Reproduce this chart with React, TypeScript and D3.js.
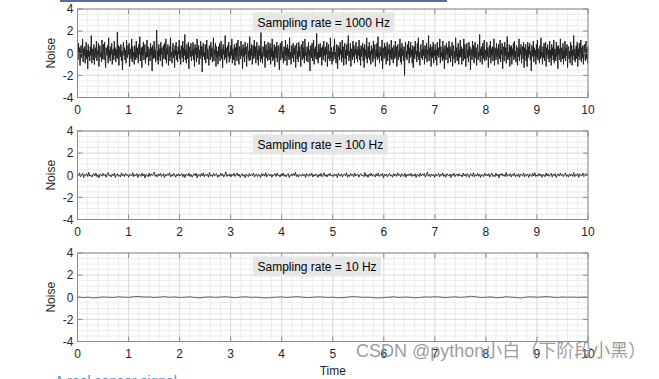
import React from "react";
import * as d3 from "d3";

// ---- data ----
const noise1000Hz: number[] = [
0.3,-0.6,0.9,-0.1,0.5,-1.1,0.2,0.7,-0.4,0.0,1.3,-0.8,0.4,-0.2,0.6,-0.9,0.1,1.0,-0.5,0.3,-1.4,0.8,-0.3,0.2,-0.7,
0.6,-0.2,1.6,-0.9,0.4,0.1,-0.6,0.8,-1.0,0.3,0.5,-0.4,1.1,-0.7,0.2,-0.1,0.9,-1.2,0.4,0.7,-0.3,0.0,-0.8,1.2,-0.5,
0.2,0.8,-0.6,1.0,-0.3,-1.3,0.5,0.1,-0.2,0.7,-0.9,1.4,-0.4,0.3,-0.7,0.6,-0.1,0.9,-1.0,0.2,0.4,-0.6,1.1,-0.2,0.5,
-0.8,0.3,-0.4,1.9,-0.5,0.7,-1.1,0.1,0.6,-0.3,0.8,-0.7,0.2,-1.5,0.4,1.0,-0.2,0.5,-0.6,0.3,-0.9,1.2,0.0,-0.4,0.7,
-0.1,0.9,-1.2,0.4,0.2,-0.5,1.3,-0.8,0.6,-0.3,0.1,-1.0,0.7,0.3,-0.6,1.1,-0.4,0.5,-0.2,-0.9,0.8,-0.1,1.5,-0.7,0.2,
0.5,-1.3,0.6,-0.2,1.0,-0.6,0.3,0.8,-0.9,0.1,-0.4,1.2,-0.3,0.6,-1.1,0.4,0.0,-0.7,0.9,-0.2,0.5,-1.6,0.7,0.2,-0.5,
1.1,-0.4,0.3,-0.8,0.6,2.1,-0.6,0.2,-1.0,0.8,-0.3,0.4,-0.7,1.0,-0.1,0.5,-1.2,0.3,0.7,-0.5,0.9,-0.2,-0.6,1.3,-0.9,
0.4,-0.1,0.8,-1.1,0.2,0.6,-0.7,1.4,-0.3,0.1,-0.9,0.5,0.9,-0.4,0.3,-1.3,0.7,-0.2,1.0,-0.6,0.2,-0.8,0.6,-0.1,1.2,
-0.5,0.3,-1.0,0.7,0.1,-0.4,1.1,-0.8,0.5,-0.2,1.7,-0.6,0.3,-0.9,0.8,0.0,-0.5,1.0,-1.4,0.4,0.6,-0.3,0.9,-0.7,0.2,
-0.2,1.0,-0.6,0.4,-1.2,0.8,-0.1,0.5,-0.8,1.3,-0.4,0.2,0.7,-1.0,0.3,-0.5,1.1,-0.2,0.6,-1.7,0.4,0.9,-0.3,0.1,-0.6,
0.8,-0.9,0.2,1.2,-0.5,0.4,-0.2,-1.1,0.7,0.3,-0.6,1.0,-0.3,0.5,-0.8,0.1,1.4,-0.7,0.3,-0.1,0.9,-1.2,0.6,-0.4,0.2,
-1.0,0.6,-0.3,0.9,-0.7,0.2,1.1,-0.5,0.4,-1.3,0.8,-0.1,0.3,-0.6,1.6,-0.4,0.5,-0.9,0.2,0.7,-0.3,1.0,-0.8,0.1,-0.5,
0.7,-0.2,1.3,-0.9,0.4,-0.6,0.1,0.8,-1.1,0.5,-0.3,0.9,-0.7,0.2,1.2,-0.4,-1.0,0.6,0.3,-0.5,1.1,-0.2,0.4,-1.4,0.8,
-0.3,0.5,-0.8,1.0,-0.1,0.6,-1.2,0.3,0.9,-0.4,0.2,-0.7,1.5,-0.6,0.4,-0.2,0.8,-1.0,0.1,0.7,-0.5,1.2,-0.3,0.6,-0.9,
0.2,1.0,-0.6,0.3,-1.1,0.7,-0.2,0.5,-0.8,2.0,-0.5,0.1,-0.9,0.6,0.4,-0.3,1.1,-1.3,0.2,0.8,-0.4,0.3,-0.7,1.0,-0.1,
-0.6,0.4,0.9,-1.0,0.5,-0.3,1.3,-0.7,0.2,-0.5,0.8,-1.2,0.6,0.0,-0.4,1.0,-0.8,0.3,0.7,-0.2,-1.5,0.5,0.9,-0.6,0.3,
1.1,-0.4,0.2,-0.9,0.6,0.3,-0.7,1.2,-0.2,0.5,-1.1,0.8,-0.3,0.4,-0.6,1.4,-0.5,0.1,-1.0,0.7,0.2,-0.4,0.9,-0.8,0.5,
-0.1,0.7,-1.3,0.4,0.9,-0.5,0.2,-0.8,1.0,-0.3,0.6,-0.1,-1.2,0.8,0.3,-0.6,1.1,-0.4,0.5,-0.9,1.3,-0.2,0.1,-0.7,0.6,
0.4,-0.8,1.0,-0.2,0.3,-1.6,0.7,0.5,-0.4,0.9,-0.7,0.2,1.2,-1.0,0.4,-0.3,0.6,-0.5,1.8,-0.6,0.1,-0.9,0.8,0.3,-0.4,
0.9,-0.3,0.5,-1.1,0.2,0.7,-0.6,1.1,-0.2,0.4,-0.8,0.6,-0.1,1.0,-1.2,0.3,0.8,-0.5,0.2,-0.7,1.4,-0.4,0.5,-1.0,0.1,
-0.7,0.6,-0.2,1.3,-0.5,0.1,-0.9,0.8,0.4,-1.4,0.7,-0.3,0.5,-0.6,1.0,-0.1,0.3,-0.8,1.2,-0.4,0.6,-1.1,0.2,0.9,-0.5,
0.3,-1.0,0.8,-0.2,0.5,1.6,-0.7,0.2,-0.4,0.9,-1.2,0.4,0.1,-0.6,1.1,-0.3,0.7,-0.9,0.4,-0.1,1.0,-0.5,0.3,-0.8,0.6,
-0.2,1.2,-0.6,0.4,-1.1,0.7,-0.3,0.2,0.9,-0.7,0.5,-1.3,0.8,-0.2,0.3,-0.5,1.4,-0.9,0.1,0.6,-0.4,1.0,-0.6,0.2,-1.0,
0.7,-0.1,0.4,-0.8,1.1,-0.5,0.2,0.8,-1.2,0.3,-0.3,0.9,-0.6,1.5,-0.4,0.1,-0.9,0.6,-0.2,0.4,-0.7,1.2,-1.4,0.5,0.2,
-0.5,0.9,-0.3,0.6,-1.0,0.2,1.0,-0.7,0.4,-0.1,0.8,-1.1,0.3,-0.4,1.2,-0.6,0.5,-0.2,-0.9,0.7,0.1,-0.5,1.1,-0.3,0.6,
-1.2,0.4,0.8,-0.6,0.2,-0.3,1.3,-0.8,0.5,-1.0,0.9,-0.2,0.3,-0.7,0.6,-2.0,0.4,1.0,-0.4,0.2,-0.6,0.8,-0.1,1.1,-0.9,
0.5,-0.4,1.0,-0.2,0.3,-0.9,0.7,-1.3,0.4,0.6,-0.5,1.1,-0.1,0.2,-0.8,0.9,-0.3,1.4,-0.6,0.1,-1.1,0.5,0.8,-0.4,0.3,
-0.6,1.2,-0.2,0.4,-1.0,0.7,0.1,-0.5,0.9,-0.8,0.3,-0.1,1.6,-0.7,0.5,-0.3,0.8,-1.2,0.2,0.6,-0.4,1.0,-0.9,0.3,-0.2,
0.8,-0.6,0.3,-1.1,1.0,-0.2,0.5,-0.4,0.2,1.3,-0.9,0.6,-0.3,0.1,-0.7,1.1,-0.5,0.4,-1.4,0.7,0.2,-0.6,0.9,-0.1,0.5,
-0.9,0.2,1.1,-0.4,0.6,-0.8,0.3,-0.2,1.0,-1.2,0.4,0.7,-0.5,0.2,-0.9,1.4,-0.3,0.5,-0.7,0.1,0.9,-1.0,0.3,-0.4,1.2,
-0.3,0.6,-1.0,0.4,0.2,-0.7,1.3,-0.5,0.8,-0.1,-1.2,0.5,0.9,-0.4,0.3,-0.8,1.0,-0.2,0.6,-1.5,0.4,0.1,-0.6,1.1,-0.3,
0.7,-0.9,0.2,1.0,-0.4,0.5,-1.1,0.3,0.8,-0.6,0.1,-0.3,1.7,-0.8,0.4,-0.2,0.6,-1.0,0.9,-0.5,0.2,1.2,-0.7,0.3,-0.1,
-0.6,1.0,-0.3,0.5,-1.3,0.2,0.7,-0.4,1.1,-0.9,0.4,-0.2,0.6,-0.7,0.0,1.3,-1.1,0.5,0.2,-0.6,0.9,-0.3,0.4,-1.0,0.8,
0.2,-0.5,1.2,-0.8,0.3,-0.1,0.9,-1.4,0.6,0.4,-0.7,1.0,-0.2,0.5,-0.9,0.3,1.5,-0.6,0.1,-0.4,0.8,-1.2,0.6,-0.3,0.7,
-1.0,0.4,-0.2,0.9,-0.6,1.1,-0.4,0.2,-0.8,0.7,0.3,-1.1,0.5,-0.3,1.3,-0.7,0.4,-0.1,0.8,-0.9,0.2,0.6,-0.5,1.0,-1.3,
0.5,-0.2,0.8,-0.7,0.3,-1.2,1.0,-0.4,0.6,-0.1,0.9,-0.6,0.2,-1.6,0.7,0.4,-0.3,1.1,-0.8,0.5,-0.2,0.3,-1.0,0.8,-0.4,
1.2,-0.6,0.4,-0.2,-0.9,0.7,-0.5,1.4,-0.3,0.1,-1.0,0.6,-0.4,0.9,-0.7,0.2,1.0,-1.2,0.5,-0.1,0.8,-0.5,0.3,-0.8,1.1,
-0.4,0.3,-1.1,0.8,-0.2,0.5,-0.6,1.2,-0.9,0.4,0.2,-0.7,1.0,-0.3,0.6,-1.4,0.7,-0.1,0.4,-0.6,1.3,-0.8,0.2,0.5,-0.5,
0.9,-1.0,0.3,-0.4,1.1,-0.7,0.5,-0.2,0.8,-1.3,0.4,0.6,-0.5,0.2,-0.9,1.0,-0.3,0.7,-1.1,0.3,-0.2,1.6,-0.6,0.4,-0.8,
0.1,0.7,-0.5,1.0,-1.2,0.4,-0.3,0.9,-0.6,0.2,1.2,-0.8,0.5,-0.4,0.7,-1.0,0.3,0.8,-0.2,-0.7,1.1,-0.5,0.4,-0.9,0.6,
];

const noise100Hz: number[] = [
0.12,-0.05,0.21,-0.14,0.03,0.18,-0.22,0.07,-0.01,0.15,-0.11,0.26,-0.08,0.02,-0.17,0.09,0.14,-0.06,0.20,-0.13,0.04,-0.24,0.11,0.06,-0.09,
0.17,-0.02,0.08,-0.19,0.13,0.25,-0.07,0.01,-0.15,0.10,-0.04,0.19,-0.21,0.06,0.14,-0.10,0.03,-0.16,0.22,-0.05,0.09,-0.12,0.16,-0.01,0.05,
-0.18,0.11,0.02,-0.08,0.24,-0.13,0.07,-0.03,0.15,-0.20,0.09,0.04,-0.11,0.18,-0.06,0.12,-0.25,0.08,0.01,-0.14,0.20,-0.09,0.13,-0.02,0.06,
0.28,-0.10,0.05,-0.16,0.11,-0.04,0.19,-0.12,0.02,0.15,-0.22,0.08,-0.07,0.13,-0.01,0.23,-0.15,0.06,-0.09,0.17,0.03,-0.19,0.10,-0.05,0.14,
-0.08,0.02,0.16,-0.13,0.09,-0.21,0.12,0.04,-0.06,0.20,-0.11,0.07,-0.17,0.01,0.13,-0.03,0.18,-0.24,0.10,0.05,-0.12,0.15,-0.07,0.22,-0.14,
0.06,-0.01,0.11,-0.18,0.24,-0.09,0.03,-0.13,0.17,-0.05,0.08,0.14,-0.20,0.02,-0.10,0.19,-0.04,0.12,-0.16,0.07,0.31,-0.11,0.05,-0.08,0.13,
-0.15,0.09,-0.03,0.18,-0.12,0.04,0.21,-0.07,0.10,-0.19,0.01,0.15,-0.09,0.06,-0.23,0.12,0.03,-0.14,0.17,-0.06,0.08,-0.02,0.20,-0.17,0.05,
0.10,-0.13,0.07,0.02,-0.20,0.16,-0.05,0.11,-0.09,0.24,-0.15,0.04,0.13,-0.07,0.09,-0.18,0.06,-0.01,0.14,-0.11,0.19,-0.04,0.03,-0.16,0.12,
-0.06,0.21,-0.10,0.05,-0.14,0.08,0.17,-0.22,0.02,0.11,-0.08,0.15,-0.03,0.27,-0.12,0.06,-0.17,0.10,0.01,-0.09,0.14,-0.05,0.09,-0.20,0.16,
0.03,-0.11,0.13,-0.02,0.20,-0.16,0.07,-0.06,0.12,0.04,-0.19,0.09,-0.08,0.17,-0.13,0.01,0.22,-0.10,0.05,-0.15,0.11,-0.03,0.18,-0.07,0.02,
-0.12,0.14,-0.04,0.08,-0.21,0.19,0.01,-0.09,0.13,-0.15,0.06,0.10,-0.05,0.23,-0.18,0.04,-0.11,0.16,-0.02,0.09,-0.14,0.21,-0.08,0.03,0.12,
-0.17,0.07,0.15,-0.06,0.02,-0.13,0.25,-0.10,0.05,-0.20,0.11,-0.03,0.18,-0.09,0.08,0.01,-0.16,0.14,-0.07,0.20,-0.12,0.06,-0.01,0.17,-0.23,
0.09,-0.04,0.12,-0.14,0.06,0.19,-0.08,0.03,-0.18,0.15,-0.06,0.10,-0.11,0.22,-0.02,0.07,-0.15,0.13,0.04,-0.10,0.16,-0.19,0.08,-0.05,0.11,
-0.03,0.18,-0.12,0.05,-0.07,0.14,-0.21,0.09,0.02,-0.13,0.20,-0.06,0.11,-0.01,0.16,-0.17,0.04,0.29,-0.09,0.07,-0.14,0.12,-0.04,0.08,-0.20,
0.13,-0.08,0.04,0.17,-0.15,0.10,-0.03,0.21,-0.11,0.06,-0.18,0.14,0.01,-0.07,0.12,-0.22,0.09,-0.02,0.18,-0.13,0.05,0.11,-0.09,0.15,-0.06,
0.02,-0.16,0.20,-0.05,0.09,-0.12,0.16,-0.01,-0.19,0.13,0.07,-0.10,0.23,-0.14,0.04,-0.06,0.17,-0.09,0.11,-0.20,0.08,0.03,-0.13,0.19,-0.04,
0.10,-0.07,0.15,-0.17,0.06,0.21,-0.11,0.02,-0.14,0.18,-0.05,0.09,-0.23,0.12,0.00,0.16,-0.08,0.05,-0.12,0.26,-0.10,0.07,-0.03,0.13,-0.16,
0.08,-0.02,0.19,-0.13,0.04,-0.09,0.14,-0.18,0.11,0.03,-0.06,0.22,-0.15,0.07,-0.01,0.12,-0.20,0.10,0.05,-0.11,0.17,-0.07,0.24,-0.12,0.03,
-0.09,0.16,-0.04,0.11,-0.19,0.08,0.02,-0.14,0.20,-0.07,0.13,-0.10,0.05,0.18,-0.16,0.09,-0.03,0.15,-0.21,0.06,0.12,-0.08,0.19,-0.02,0.10,
-0.13,0.07,0.21,-0.11,0.04,-0.17,0.14,-0.05,0.09,-0.10,0.25,-0.14,0.06,-0.02,0.16,-0.19,0.11,0.03,-0.08,0.20,-0.12,0.05,0.15,-0.06,0.08,
];

const noise10Hz: number[] = [
0.02,-0.04,0.01,-0.06,-0.03,0.03,0.00,-0.02,0.04,0.01,-0.01,0.05,0.07,0.02,0.03,-0.02,0.01,0.06,-0.01,0.03,
-0.02,0.00,0.04,-0.03,-0.05,0.01,0.03,-0.01,0.02,0.05,0.00,-0.03,0.02,0.04,-0.01,0.01,-0.04,-0.06,-0.02,0.01,
0.03,-0.02,0.02,0.05,0.01,-0.03,0.00,0.04,0.02,-0.02,0.01,-0.05,-0.03,0.02,0.06,0.03,-0.01,0.01,-0.04,-0.07,
-0.03,0.01,0.04,-0.02,0.02,0.00,-0.05,-0.02,0.03,0.01,0.05,0.02,-0.03,0.01,0.04,-0.01,0.02,0.09,0.04,-0.02,
0.00,0.03,-0.04,-0.02,0.05,0.01,-0.03,-0.06,0.02,0.04,0.00,0.03,0.06,0.01,-0.02,0.03,0.00,0.02,-0.01,0.01,0.00,
];

const panelSeries = [noise1000Hz, noise100Hz, noise10Hz];
const panelLabels = ["Sampling rate = 1000 Hz", "Sampling rate = 100 Hz", "Sampling rate = 10 Hz"];
const timeDomain: [number, number] = [0, 10];
const noiseDomain: [number, number] = [-4, 4];
const xTickValues = [0, 1, 2, 3, 4, 5, 6, 7, 8, 9, 10];
const yTickValues = [-4, -2, 0, 2, 4];
const xLabel = "Time";
const yLabel = "Noise";
const watermark = "CSDN @python小白（下阶段小黑）";
const footerText = "› A real sensor signal";

// ---- layout ----
const W = 659;
const H = 379;
const LEFT = 77.5;
const RIGHT = 588;
const PANEL_TOPS = [9, 131, 253];
const PANEL_H = 88.5;
const FONT = "'Liberation Sans', Arial, Helvetica, sans-serif";

function textWidth(s: string, size: number) {
  if (typeof document === "undefined") return s.length * size * 0.55;
  const c = document.createElement("canvas");
  const ctx = c.getContext("2d");
  if (!ctx) return s.length * size * 0.55;
  ctx.font = `${size}px 'Liberation Sans', Arial`;
  return ctx.measureText(s).width;
}

function Panel({ top, values, label, idx }: { top: number; values: number[]; label: string; idx: number }) {
  const x = d3.scaleLinear().domain(timeDomain).range([LEFT, RIGHT]);
  const y = d3.scaleLinear().domain(noiseDomain).range([top + PANEL_H, top]);
  const n = values.length;
  const line = d3
    .line<number>()
    .x((_, i) => x((i * (timeDomain[1] - timeDomain[0])) / (n - 1)))
    .y((v) => y(v));

  const xMinor = d3.range(0, 10.0001, 0.2).filter((v) => Math.abs(v - Math.round(v)) > 1e-6);
  const yMinor = d3.range(-4, 4.0001, 0.5).filter((v) => Math.abs(v / 2 - Math.round(v / 2)) > 1e-6);
  const bottom = top + PANEL_H;
  const tick = 5;
  const lw = textWidth(label, 12);
  const strokeW = idx === 0 ? 1.0 : idx === 1 ? 0.9 : 0.9;
  const strokeC = idx === 2 ? "#555" : "#222";

  return (
    <g>
      <rect x={LEFT} y={top} width={RIGHT - LEFT} height={PANEL_H} fill="#fff" />
      {xMinor.map((v) => (
        <line key={"xm" + v} x1={x(v)} x2={x(v)} y1={top} y2={bottom} stroke="#ebebeb" strokeWidth={1} />
      ))}
      {yMinor.map((v) => (
        <line key={"ym" + v} x1={LEFT} x2={RIGHT} y1={y(v)} y2={y(v)} stroke="#ebebeb" strokeWidth={1} />
      ))}
      {xTickValues.map((v) => (
        <line key={"xg" + v} x1={x(v)} x2={x(v)} y1={top} y2={bottom} stroke="#dadada" strokeWidth={1} />
      ))}
      {yTickValues.map((v) => (
        <line key={"yg" + v} x1={LEFT} x2={RIGHT} y1={y(v)} y2={y(v)} stroke="#dadada" strokeWidth={1} />
      ))}
      <path d={line(values) ?? ""} fill="none" stroke={strokeC} strokeWidth={strokeW} strokeLinejoin="round" />
      <rect x={LEFT} y={top} width={RIGHT - LEFT} height={PANEL_H} fill="none" stroke="#8c8c8c" strokeWidth={1} />
      {xTickValues.map((v) => (
        <g key={"xt" + v}>
          <line x1={x(v)} x2={x(v)} y1={bottom} y2={bottom - tick} stroke="#8c8c8c" />
          <line x1={x(v)} x2={x(v)} y1={top} y2={top + tick} stroke="#8c8c8c" />
          <text x={x(v)} y={bottom + 16} textAnchor="middle" fontSize={12} fill="#262626" fontFamily={FONT}>
            {v}
          </text>
        </g>
      ))}
      {yTickValues.map((v) => (
        <g key={"yt" + v}>
          <line x1={LEFT} x2={LEFT + tick} y1={y(v)} y2={y(v)} stroke="#8c8c8c" />
          <line x1={RIGHT} x2={RIGHT - tick} y1={y(v)} y2={y(v)} stroke="#8c8c8c" />
          <text x={LEFT - 4} y={y(v) + 4.3} textAnchor="end" fontSize={12} fill="#262626" fontFamily={FONT}>
            {v}
          </text>
        </g>
      ))}
      <text
        transform={`translate(${LEFT - 23},${top + PANEL_H / 2}) rotate(-90)`}
        textAnchor="middle"
        fontSize={12}
        fill="#262626"
        fontFamily={FONT}
      >
        {yLabel}
      </text>
      <rect x={253} y={top + 3.5} width={lw + 9} height={20} fill="#e6e6e6" />
      <text x={257.5} y={top + 18} fontSize={12} fill="#000" fontFamily={FONT}>
        {label}
      </text>
    </g>
  );
}

export default function App() {
  return (
    <svg
      width={W}
      height={H}
      viewBox={`0 0 ${W} ${H}`}
      style={{ position: "absolute", left: 0, top: 0, background: "#fff" }}
    >
      <rect x={0} y={0} width={W} height={H} fill="#fff" />
      <line x1={60} x2={447} y1={1} y2={1} stroke="#1f3b78" strokeWidth={1.5} />
      {panelSeries.map((vals, i) => (
        <Panel key={i} idx={i} top={PANEL_TOPS[i]} values={vals} label={panelLabels[i]} />
      ))}
      <text x={(LEFT + RIGHT) / 2} y={375} textAnchor="middle" fontSize={12} fill="#262626" fontFamily={FONT}>
        {xLabel}
      </text>
      <text x={356} y={357} fontSize={18} fill="#8a8a8a" fillOpacity={0.85} fontFamily="'Liberation Sans', 'Noto Sans CJK SC', sans-serif">
        {watermark}
      </text>
      <text x={47} y={386} fontSize={14} fill="#5b8ac4" fontFamily={FONT}>
        {footerText}
      </text>
    </svg>
  );
}
